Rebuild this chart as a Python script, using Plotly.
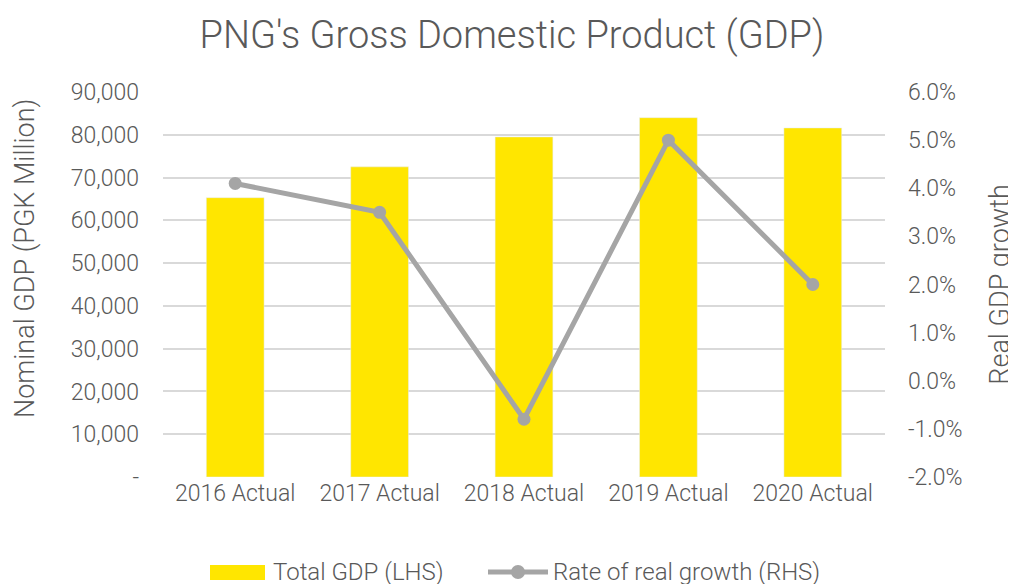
import plotly.graph_objects as go

categories = ["2016 Actual", "2017 Actual", "2018 Actual", "2019 Actual", "2020 Actual"]
total_gdp = [65300, 72500, 79500, 84000, 81600]
real_growth = [4.1, 3.5, -0.8, 5.0, 2.0]

left_tickvals = [0, 10000, 20000, 30000, 40000, 50000, 60000, 70000, 80000, 90000]
left_ticktext = ["-", "10,000", "20,000", "30,000", "40,000", "50,000", "60,000", "70,000", "80,000", "90,000"]
right_tickvals = [-2, -1, 0, 1, 2, 3, 4, 5, 6]
right_ticktext = ["-2.0%", "-1.0%", "0.0%", "1.0%", "2.0%", "3.0%", "4.0%", "5.0%", "6.0%"]

FONT = "Roboto, sans-serif"
GREY = "#595959"
BAR_COLOR = "#FFE600"
LINE_COLOR = "#A5A5A5"

W, H = 1016, 584
L, R, T, B = 155, 139, 84, 115
PW, PH = W - L - R, H - T - B


def px(x):
    return (x - L) / PW


def py(y):
    return (H - B - y) / PH


fig = go.Figure()
fig.add_trace(go.Bar(x=categories, y=total_gdp, name="Total GDP (LHS)",
                     marker_color=BAR_COLOR, yaxis="y"))
fig.add_trace(go.Scatter(x=categories, y=real_growth, name="Rate of real growth (RHS)",
                         mode="lines+markers", yaxis="y2",
                         line=dict(color=LINE_COLOR, width=5),
                         marker=dict(color=LINE_COLOR, size=13)))

# custom legend (matches the wide swatch of the original)
ly = 564
shapes = [
    dict(type="rect", xref="paper", yref="paper", x0=px(202), x1=px(257), y0=py(572), y1=py(557),
         fillcolor=BAR_COLOR, line=dict(width=0)),
    dict(type="line", xref="paper", yref="paper", x0=px(480), x1=px(540), y0=py(ly), y1=py(ly),
         line=dict(color=LINE_COLOR, width=5)),
    dict(type="circle", xref="paper", yref="paper", x0=px(503), x1=px(517), y0=py(571), y1=py(557),
         fillcolor=LINE_COLOR, line=dict(width=0)),
]
annotations = [
    dict(text="Total GDP (LHS)", xref="paper", yref="paper", x=px(263), y=py(ly),
         xanchor="left", yanchor="middle", showarrow=False,
         font=dict(size=24, color=GREY, family=FONT, weight=300)),
    dict(text="Rate of real growth (RHS)", xref="paper", yref="paper", x=px(543), y=py(ly),
         xanchor="left", yanchor="middle", showarrow=False,
         font=dict(size=24, color=GREY, family=FONT, weight=300)),
    dict(text="Nominal GDP (PGK Million)", xref="paper", yref="paper", x=px(17), y=py(251),
         xanchor="center", yanchor="middle", textangle=-90, showarrow=False,
         font=dict(size=27, color=GREY, family=FONT, weight=300)),
]

TICKFONT = dict(size=23, color=GREY, family=FONT, weight=300)

fig.update_layout(
    width=W, height=H,
    paper_bgcolor="white", plot_bgcolor="white",
    margin=dict(l=L, r=R, t=T, b=B),
    font=dict(family=FONT, color=GREY, size=23, weight=300),
    title=dict(text="PNG's Gross Domestic Product (GDP)", x=504 / W, xanchor="center",
               y=1 - 27 / H, yanchor="middle",
               font=dict(size=38, color=GREY, family=FONT, weight=300)),
    bargap=0.6,
    showlegend=False,
    shapes=shapes,
    annotations=annotations,
    xaxis=dict(showgrid=False, showline=False, ticks="", tickfont=TICKFONT),
    yaxis=dict(range=[0, 90000], tickvals=left_tickvals, ticktext=left_ticktext,
               showgrid=True, gridcolor="#D9D9D9", gridwidth=1.5, zeroline=False,
               showline=False, ticks="", ticklabelstandoff=23,
               tickfont=TICKFONT),
    yaxis2=dict(range=[-2, 6], tickvals=right_tickvals, ticktext=right_ticktext,
                overlaying="y", side="right", showgrid=False, zeroline=False,
                showline=False, ticks="", ticklabelstandoff=22,
                title=dict(text="Real GDP growth", standoff=28,
                           font=dict(size=27, color=GREY, family=FONT, weight=300)),
                tickfont=TICKFONT),
)

fig.write_html("out.html")
